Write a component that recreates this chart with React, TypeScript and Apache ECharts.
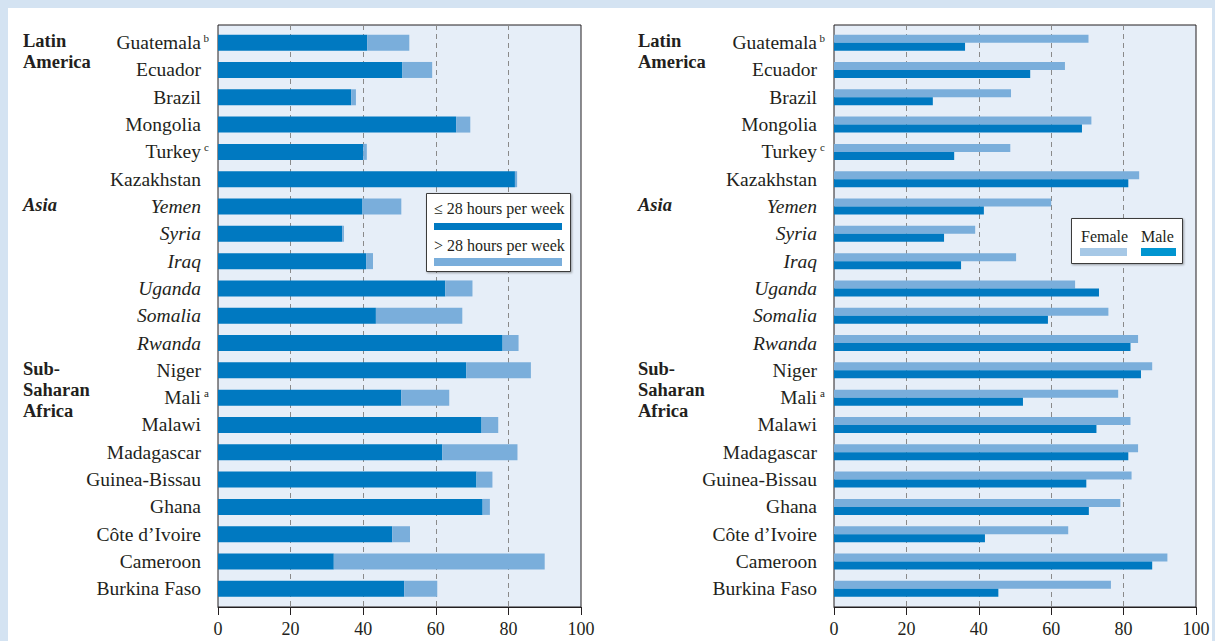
import React, { useEffect, useRef } from 'react';
import * as echarts from 'echarts';

const countries = ['Guatemala', 'Ecuador', 'Brazil', 'Mongolia', 'Turkey', 'Kazakhstan', 'Yemen', 'Syria', 'Iraq', 'Uganda', 'Somalia', 'Rwanda', 'Niger', 'Mali', 'Malawi', 'Madagascar', 'Guinea-Bissau', 'Ghana', 'Côte d’Ivoire', 'Cameroon', 'Burkina Faso'];
const footnotes = ['b', '', '', '', 'c', '', '', '', '', '', '', '', '', 'a', '', '', '', '', '', '', ''];
const italicCountries = ['Yemen', 'Syria', 'Iraq', 'Uganda', 'Somalia', 'Rwanda'];

// Left panel: share working <= 28 hours and > 28 hours per week
const upTo28Hours = [41.1, 50.8, 36.7, 65.6, 40.0, 81.8, 39.8, 34.2, 40.8, 62.6, 43.5, 78.4, 68.4, 50.5, 72.6, 61.8, 71.2, 72.9, 48.0, 31.9, 51.3];
const over28Hours = [11.6, 8.2, 1.3, 3.9, 1.0, 0.6, 10.7, 0.5, 1.9, 7.5, 23.8, 4.4, 17.8, 13.2, 4.6, 20.7, 4.4, 2.0, 4.9, 58.1, 9.1];

// Right panel: female and male
const female = [70.3, 63.8, 48.9, 71.1, 48.7, 84.3, 60.0, 39.0, 50.3, 66.6, 75.8, 84.0, 87.9, 78.5, 81.9, 84.0, 82.2, 79.1, 64.7, 92.1, 76.5];
const male = [36.2, 54.2, 27.3, 68.5, 33.2, 81.3, 41.4, 30.4, 35.1, 73.2, 59.1, 81.9, 84.8, 52.2, 72.5, 81.3, 69.7, 70.4, 41.7, 87.9, 45.4];

const groups = [
  { name: 'Latin\nAmerica', at: 'Guatemala', italic: false },
  { name: 'Asia', at: 'Yemen', italic: true },
  { name: 'Sub-\nSaharan\nAfrica', at: 'Niger', italic: false },
];

const xTicks = [0, 20, 40, 60, 80, 100];

const FONT = '"Liberation Serif", "DejaVu Serif", serif';
const INK = '#231f20';
const DARK = '#0079c1';
const LIGHT = '#7aaedb';
const PLOT_BG = '#e6eef8';
const OUTER_BG = '#d4e3f2';

export default function App() {
  const ref = useRef<HTMLDivElement>(null);

  useEffect(() => {
    if (!ref.current) return;
    const chart = echarts.init(ref.current, undefined, { renderer: 'svg' });

    const panels = [
      { left: 218, width: 363 },
      { left: 834, width: 362 },
    ];
    const frameTop = 25;
    const frameHeight = 582;
    const barTop = 29;
    const barHeight = 573.5;

    const grids: any[] = [];
    const xAxes: any[] = [];
    const yAxes: any[] = [];

    const labelFormatter = (value: string) => {
      const i = countries.indexOf(value);
      const fn = footnotes[i];
      const style = italicCountries.includes(value) ? 'it' : 'n';
      return fn ? `{${style}|${value}}{sup|${fn}}` : `{${style}|${value}}{sp|}`;
    };

    panels.forEach((p, k) => {
      grids.push({
        left: p.left, top: frameTop, width: p.width, height: frameHeight,
        show: true, backgroundColor: PLOT_BG, borderColor: INK, borderWidth: 1,
      });
      grids.push({ left: p.left, top: barTop, width: p.width, height: barHeight, show: false });

      xAxes.push({
        gridIndex: 2 * k, type: 'value', min: xTicks[0], max: xTicks[xTicks.length - 1], interval: 20,
        axisLine: { show: true, lineStyle: { color: INK, width: 1 } },
        axisTick: { show: true, length: 8, lineStyle: { color: INK } },
        axisLabel: { color: INK, fontSize: 18, fontFamily: FONT, margin: 13 },
        splitLine: { show: true, showMinLine: false, showMaxLine: false, lineStyle: { color: '#8a8a8a', type: [5, 4], width: 1 } },
      });
      xAxes.push({
        gridIndex: 2 * k + 1, type: 'value', min: 0, max: 100, show: false,
      });
      yAxes.push({ gridIndex: 2 * k, type: 'value', show: false, min: 0, max: 1 });
      yAxes.push({
        gridIndex: 2 * k + 1, type: 'category', inverse: true, data: countries,
        axisLine: { show: false }, axisTick: { show: false },
        axisLabel: {
          margin: 9, formatter: labelFormatter, interval: 0,
          rich: {
            n: { fontSize: 19.5, fontFamily: FONT, color: INK },
            it: { fontSize: 19.5, fontFamily: FONT, color: INK, fontStyle: 'italic' },
            sup: { fontSize: 11, fontFamily: FONT, color: INK, verticalAlign: 'top', width: 6, padding: [0, 0, 8, 2] },
            sp: { width: 8 },
          },
        },
      });
    });

    const option: any = {
      animation: false,
      backgroundColor: OUTER_BG,
      grid: grids,
      xAxis: xAxes,
      yAxis: yAxes,
      series: [
        {
          name: '≤ 28 hours per week', type: 'bar', stack: 'hours', xAxisIndex: 1, yAxisIndex: 1,
          data: upTo28Hours, barWidth: 16, itemStyle: { color: DARK },
        },
        {
          name: '> 28 hours per week', type: 'bar', stack: 'hours', xAxisIndex: 1, yAxisIndex: 1,
          data: over28Hours, barWidth: 16, itemStyle: { color: LIGHT },
        },
        {
          name: 'Female', type: 'bar', xAxisIndex: 3, yAxisIndex: 3,
          data: female, barWidth: 8, barGap: '0%', itemStyle: { color: LIGHT },
        },
        {
          name: 'Male', type: 'bar', xAxisIndex: 3, yAxisIndex: 3,
          data: male, barWidth: 8, barGap: '0%', itemStyle: { color: DARK },
        },
      ],
    };
    chart.setOption(option);

    const graphics: any[] = [
      { type: 'rect', z: -10, shape: { x: 8, y: 8, width: 1204, height: 700 }, style: { fill: '#ffffff' }, silent: true },
    ];

    panels.forEach((p, k) => {
      groups.forEach((g) => {
        const y = chart.convertToPixel({ yAxisIndex: 2 * k + 1 } as any, g.at) as any as number;
        graphics.push({
          type: 'text', x: k === 0 ? 23 : 638, y: y - 12,
          style: {
            text: g.name, fill: INK, fontFamily: FONT, fontSize: 18.5, fontWeight: 'bold',
            fontStyle: g.italic ? 'italic' : 'normal', lineHeight: 21, textVerticalAlign: 'top', textAlign: 'left',
          },
        });
      });
    });

    graphics.push(
      { type: 'rect', z: 10, shape: { x: 426.5, y: 193.5, width: 144, height: 78 }, style: { fill: '#ffffff', stroke: '#3a3a3a', lineWidth: 1, shadowBlur: 2, shadowColor: 'rgba(0,0,0,0.35)', shadowOffsetX: 1, shadowOffsetY: 1 } },
      { type: 'text', z: 11, x: 434, y: 208, style: { text: '≤ 28 hours per week', fill: INK, fontFamily: FONT, fontSize: 16, textVerticalAlign: 'middle' } },
      { type: 'rect', z: 11, shape: { x: 434, y: 223, width: 128, height: 7 }, style: { fill: DARK } },
      { type: 'text', z: 11, x: 434, y: 245, style: { text: '> 28 hours per week', fill: INK, fontFamily: FONT, fontSize: 16, textVerticalAlign: 'middle' } },
      { type: 'rect', z: 11, shape: { x: 434, y: 258, width: 128, height: 8 }, style: { fill: LIGHT } },
    );
    graphics.push(
      { type: 'rect', z: 10, shape: { x: 1071.5, y: 218.5, width: 111, height: 45 }, style: { fill: '#ffffff', stroke: '#3a3a3a', lineWidth: 1, shadowBlur: 2, shadowColor: 'rgba(0,0,0,0.35)', shadowOffsetX: 1, shadowOffsetY: 1 } },
      { type: 'text', z: 11, x: 1081, y: 236, style: { text: 'Female', fill: INK, fontFamily: FONT, fontSize: 16, textVerticalAlign: 'middle' } },
      { type: 'rect', z: 11, shape: { x: 1080, y: 248, width: 47, height: 8 }, style: { fill: '#a6c8e6' } },
      { type: 'text', z: 11, x: 1141, y: 236, style: { text: 'Male', fill: INK, fontFamily: FONT, fontSize: 16, textVerticalAlign: 'middle' } },
      { type: 'rect', z: 11, shape: { x: 1141, y: 248, width: 35, height: 8 }, style: { fill: '#0095d0' } },
    );

    chart.setOption({ graphic: graphics });

    return () => chart.dispose();
  }, []);

  return <div ref={ref} style={{ position: 'absolute', left: 0, top: 0, width: 1215, height: 641 }} />;
}
